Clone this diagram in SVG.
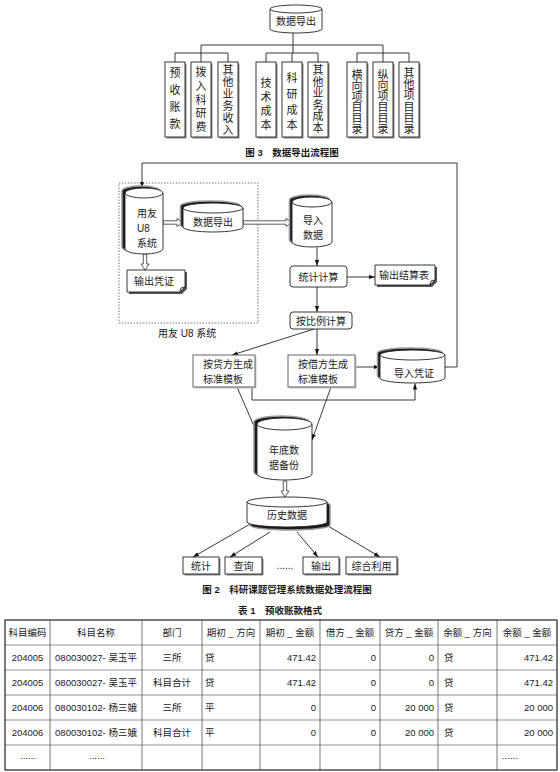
<svg xmlns="http://www.w3.org/2000/svg" width="560" height="772" viewBox="0 0 560 772">
<defs>
<style>
text{font-family:'Liberation Sans','Noto Sans CJK SC',sans-serif;fill:#1a1a1a;font-size:10px}
.c{text-anchor:middle}
.e{text-anchor:end}
.vt{font-size:11px;text-anchor:middle}
.cap{font-weight:bold;font-size:9.5px}
.tb{font-size:9.5px}
.ln{fill:none;stroke:#222;stroke-width:0.9}
.lt{fill:none;stroke:#555;stroke-width:0.8}
.ar{fill:none;stroke:#222;stroke-width:0.9;marker-end:url(#ah)}
.box{fill:#fff;stroke:#222;stroke-width:0.9}
.sh{fill:#888;stroke:none}
.cyl{fill:#fff;stroke:#222;stroke-width:0.9}
.cs{fill:#1a1a1a;stroke:#999;stroke-width:1.5}
.hol{fill:#fff;stroke:#333;stroke-width:0.8}
.gbox{fill:#fff;stroke:#555;stroke-width:0.9}
.dot{fill:none;stroke:#666;stroke-width:0.9;stroke-dasharray:1.5 1.5}
.tl{stroke:#777;stroke-width:0.8}
.tv{stroke:#555;stroke-width:0.8}
</style>
<marker id="ah" viewBox="0 0 10 10" refX="10" refY="5" markerWidth="6" markerHeight="6" orient="auto" markerUnits="userSpaceOnUse">
<path d="M0,1.5 L10,5 L0,8.5 Z" fill="#111"/>
</marker>
</defs>
<rect width="560" height="772" fill="#fff"/>

<!-- Figure 3 -->
<g id="fig3-export">
<path class="cyl" d="M270,9 A26,4 0 0 1 322,9 V29 A26,4 0 0 1 270,29 Z"/>
<path class="ln" d="M270,9 A26,4 0 0 0 322,9"/>
<text class="c" x="296" y="25" font-size="11">数据导出</text>
</g>
<g id="fig3-connectors">
<path class="ln" d="M293,33 V53 M201,45 H383 M201,45 V53 M383,45 V53"/>
<path class="ln" d="M175,53 H228 M175,53 V62 M201,53 V62 M228,53 V62"/>
<path class="ln" d="M266,53 H318 M266,53 V62 M292,53 V62 M318,53 V62"/>
<path class="ln" d="M357,53 H409 M357,53 V62 M383,53 V62 M409,53 V62"/>
</g>
<g id="fig3-b1"><rect class="sh" x="166.5" y="63.5" width="20" height="75"/><rect class="box" x="165" y="62" width="20" height="75"/>
<text class="vt"><tspan x="175" y="77">预</tspan><tspan x="175" y="94">收</tspan><tspan x="175" y="111">账</tspan><tspan x="175" y="128">款</tspan></text></g>
<g id="fig3-b2"><rect class="sh" x="192.5" y="63.5" width="20" height="75"/><rect class="box" x="191" y="62" width="20" height="75"/>
<text class="vt"><tspan x="201" y="76">拨</tspan><tspan x="201" y="90">入</tspan><tspan x="201" y="104">科</tspan><tspan x="201" y="117">研</tspan><tspan x="201" y="131">费</tspan></text></g>
<g id="fig3-b3"><rect class="sh" x="219.5" y="63.5" width="20" height="75"/><rect class="box" x="218" y="62" width="20" height="75"/>
<text class="vt" font-size="10"><tspan x="228" y="74">其</tspan><tspan x="228" y="86">他</tspan><tspan x="228" y="98">业</tspan><tspan x="228" y="110">务</tspan><tspan x="228" y="122">收</tspan><tspan x="228" y="134">入</tspan></text></g>
<g id="fig3-b4"><rect class="sh" x="257.5" y="63.5" width="20" height="75"/><rect class="box" x="256" y="62" width="20" height="75"/>
<text class="vt"><tspan x="266" y="87">技</tspan><tspan x="266" y="101">术</tspan><tspan x="266" y="115">成</tspan><tspan x="266" y="129">本</tspan></text></g>
<g id="fig3-b5"><rect class="sh" x="283.5" y="63.5" width="20" height="75"/><rect class="box" x="282" y="62" width="20" height="75"/>
<text class="vt"><tspan x="292" y="82">科</tspan><tspan x="292" y="98">研</tspan><tspan x="292" y="114">成</tspan><tspan x="292" y="129">本</tspan></text></g>
<g id="fig3-b6"><rect class="sh" x="309.5" y="63.5" width="20" height="75"/><rect class="box" x="308" y="62" width="20" height="75"/>
<text class="vt" font-size="10"><tspan x="318" y="74">其</tspan><tspan x="318" y="85.6">他</tspan><tspan x="318" y="97.2">业</tspan><tspan x="318" y="108.8">务</tspan><tspan x="318" y="120.4">成</tspan><tspan x="318" y="132">本</tspan></text></g>
<g id="fig3-b7"><rect class="sh" x="348.5" y="63.5" width="20" height="75"/><rect class="box" x="347" y="62" width="20" height="75"/>
<text class="vt" font-size="9.5"><tspan x="357" y="79">横</tspan><tspan x="357" y="89.8">向</tspan><tspan x="357" y="100.6">项</tspan><tspan x="357" y="111.4">目</tspan><tspan x="357" y="122.2">目</tspan><tspan x="357" y="133">录</tspan></text></g>
<g id="fig3-b8"><rect class="sh" x="374.5" y="63.5" width="20" height="75"/><rect class="box" x="373" y="62" width="20" height="75"/>
<text class="vt" font-size="9.5"><tspan x="383" y="78.5">纵</tspan><tspan x="383" y="89.4">向</tspan><tspan x="383" y="100.3">项</tspan><tspan x="383" y="111.2">目</tspan><tspan x="383" y="122.1">目</tspan><tspan x="383" y="133">录</tspan></text></g>
<g id="fig3-b9"><rect class="sh" x="400.5" y="63.5" width="20" height="75"/><rect class="box" x="399" y="62" width="20" height="75"/>
<text class="vt" font-size="9.5"><tspan x="409" y="77">其</tspan><tspan x="409" y="88.2">他</tspan><tspan x="409" y="99.4">项</tspan><tspan x="409" y="110.6">目</tspan><tspan x="409" y="121.8">目</tspan><tspan x="409" y="133">录</tspan></text></g>
<text class="cap c" x="292" y="156">图 3　数据导出流程图</text>

<!-- Figure 2 -->
<g id="u8-area">
<rect class="dot" x="119" y="183" width="139" height="140"/>
<text x="158" y="337" font-size="9.5">用友 U8 系统</text>
</g>

<g id="connectors">
<path class="ar" d="M445,367 H457 V163 H142 V187.5"/>
<polygon class="hol" points="163,220.8 177,220.8 177,218.5 183,222.5 177,226.5 177,224.2 163,224.2"/>
<polygon class="hol" points="243,220.8 286,220.8 286,218.5 292,222.5 286,226.5 286,224.2 243,224.2"/>
<polygon class="hol" points="143.3,254 143.3,264 141,264 145,270 149,264 146.7,264 146.7,254"/>
<path class="ar" d="M317,247.5 V266"/>
<path class="ar" d="M347,277 H375"/>
<path class="ar" d="M317,287 V312"/>
<path class="ar" d="M314,329 L232,355"/>
<path class="ar" d="M317,329 V355"/>
<path class="ar" d="M355,367 H380"/>
<path class="ar" d="M252,387 V400 H415 V383.5"/>
<path class="ar" d="M237,387 L257,433"/>
<path class="ar" d="M331,387 L312,440"/>
<polygon class="hol" points="283.3,481 283.3,491 281,491 285,497 289,491 286.7,491 286.7,481"/>
<path class="ar" d="M252,523 L193,557"/>
<path class="ar" d="M270,532 L230,557"/>
<path class="ar" d="M297,532 L318,557"/>
<path class="ar" d="M323,523 L380,557"/>
</g>

<g id="u8">
<path class="cs" transform="translate(-3,-2)" d="M125,193 A19,5 0 0 1 163,193 V249 A19,5 0 0 1 125,249 Z"/>
<path class="cyl" d="M125,193 A19,5 0 0 1 163,193 V249 A19,5 0 0 1 125,249 Z"/>
<path class="ln" d="M125,193 A19,5 0 0 0 163,193"/>
<text x="137" y="217">用友</text>
<text x="137" y="232">U8</text>
<text x="137" y="247">系统</text>
</g>

<g id="export">
<path class="cs" transform="translate(-2.5,-2)" d="M183,208 A30,5 0 0 1 243,208 V227 A30,5 0 0 1 183,227 Z"/>
<path class="cyl" d="M183,208 A30,5 0 0 1 243,208 V227 A30,5 0 0 1 183,227 Z"/>
<path class="ln" d="M183,208 A30,5 0 0 0 243,208"/>
<text class="c" x="213" y="226">数据导出</text>
</g>

<g id="voucher-out">
<path fill="#555" d="M129,272 H187 V289 L182,294 H129 Z"/>
<path class="box" d="M127,270 H185 V287 L180,292 H127 Z"/>
<path class="ln" d="M180,292 L181,288 L185,287"/>
<text class="c" x="154" y="285">输出凭证</text>
</g>

<g id="import-data">
<path class="cs" transform="translate(-2.5,-2)" d="M292,202 A20,5 0 0 1 332,202 V242 A20,5 0 0 1 292,242 Z"/>
<path class="cyl" d="M292,202 A20,5 0 0 1 332,202 V242 A20,5 0 0 1 292,242 Z"/>
<path class="ln" d="M292,202 A20,5 0 0 0 332,202"/>
<text class="c" x="313" y="224">导入</text>
<text class="c" x="313" y="239">数据</text>
</g>

<g id="stat-calc">
<rect class="box" x="290" y="266" width="57" height="21" rx="3"/>
<text class="c" x="318.5" y="281">统计计算</text>
</g>

<g id="settle-out">
<path fill="#555" d="M377,267 H437 V282 L432,287 H377 Z"/>
<path class="box" d="M375,265 H435 V280 L430,285 H375 Z"/>
<path class="ln" d="M430,285 L431,281 L435,280"/>
<text class="c" x="404" y="279">输出结算表</text>
</g>

<g id="ratio-calc">
<rect class="box" x="290" y="312" width="62" height="17" rx="3"/>
<text class="c" x="321" y="324.5">按比例计算</text>
</g>

<g id="credit-tpl">
<rect fill="#ccc" x="194.5" y="356.5" width="62" height="32"/>
<rect class="gbox" x="193" y="355" width="62" height="32"/>
<text x="203" y="368">按贷方生成</text>
<text x="203" y="383">标准模板</text>
</g>

<g id="debit-tpl">
<rect fill="#ccc" x="289.5" y="356.5" width="67" height="32"/>
<rect class="gbox" x="288" y="355" width="67" height="32"/>
<text x="298" y="368">按借方生成</text>
<text x="298" y="383">标准模板</text>
</g>

<g id="import-voucher">
<path class="cs" transform="translate(-2.5,-2)" d="M380,355 A32.5,5 0 0 1 445,355 V378 A32.5,5 0 0 1 380,378 Z"/>
<path class="cyl" d="M380,355 A32.5,5 0 0 1 445,355 V378 A32.5,5 0 0 1 380,378 Z"/>
<path class="ln" d="M380,355 A32.5,5 0 0 0 445,355"/>
<text class="c" x="414" y="377">导入凭证</text>
</g>

<g id="year-backup">
<path class="cs" transform="translate(-3,-2)" d="M257,424 A27.5,6 0 0 1 312,424 V474 A27.5,6 0 0 1 257,474 Z"/>
<path class="cyl" d="M257,424 A27.5,6 0 0 1 312,424 V474 A27.5,6 0 0 1 257,474 Z"/>
<path class="ln" d="M257,424 A27.5,6 0 0 0 312,424"/>
<text class="c" x="284" y="454">年底数</text>
<text class="c" x="284" y="469">据备份</text>
</g>

<g id="history">
<path class="cs" transform="translate(3,3)" d="M247,502 A40,5 0 0 1 327,502 V522 A40,5 0 0 1 247,522 Z"/>
<path class="cyl" d="M247,502 A40,5 0 0 1 327,502 V522 A40,5 0 0 1 247,522 Z"/>
<path class="ln" d="M247,502 A40,5 0 0 0 327,502"/>
<text class="c" x="287" y="519">历史数据</text>
</g>

<g id="out-stat"><rect class="sh" x="184.5" y="558.5" width="36" height="17"/><rect class="box" x="183" y="557" width="36" height="17"/><text class="c" x="201" y="569.5">统计</text></g>
<g id="out-query"><rect class="sh" x="226.5" y="558.5" width="37" height="17"/><rect class="box" x="225" y="557" width="37" height="17"/><text class="c" x="243.5" y="569.5">查询</text></g>
<text class="c" x="285" y="569">......</text>
<g id="out-export"><rect class="sh" x="304.5" y="558.5" width="36" height="17"/><rect class="box" x="303" y="557" width="36" height="17"/><text class="c" x="321" y="569.5">输出</text></g>
<g id="out-use"><rect class="sh" x="347.5" y="558.5" width="51" height="17"/><rect class="box" x="346" y="557" width="51" height="17"/><text class="c" x="371.5" y="569.5">综合利用</text></g>

<text class="cap c" x="287" y="593">图 2　科研课题管理系统数据处理流程图</text>

<!-- Table 1 -->
<text class="cap c" x="280" y="614">表 1　预收账款格式</text>
<g id="table">
<g>
<line class="tl" x1="5" y1="645" x2="557" y2="645"/>
<line class="tl" x1="5" y1="670" x2="557" y2="670"/>
<line class="tl" x1="5" y1="695" x2="557" y2="695"/>
<line class="tl" x1="5" y1="720" x2="557" y2="720"/>
<line class="tl" x1="5" y1="745" x2="557" y2="745"/>
<line class="tv" x1="50" y1="620" x2="50" y2="770"/>
<line class="tv" x1="142" y1="620" x2="142" y2="770"/>
<line class="tv" x1="202" y1="620" x2="202" y2="770"/>
<line class="tv" x1="260" y1="620" x2="260" y2="770"/>
<line class="tv" x1="320" y1="620" x2="320" y2="770"/>
<line class="tv" x1="380" y1="620" x2="380" y2="770"/>
<line class="tv" x1="438" y1="620" x2="438" y2="770"/>
<line class="tv" x1="497" y1="620" x2="497" y2="770"/>
<rect x="5" y="620" width="552" height="150" fill="none" stroke="#222" stroke-width="1.2"/>
</g>
<g class="tb">
<text class="tb c" x="27.5" y="636">科目编码</text>
<text class="tb c" x="96" y="636">科目名称</text>
<text class="tb c" x="172" y="636">部门</text>
<text class="tb c" x="231" y="636">期初 _ 方向</text>
<text class="tb c" x="290" y="636">期初 _ 金额</text>
<text class="tb c" x="350" y="636">借方 _ 金额</text>
<text class="tb c" x="409" y="636">贷方 _ 金额</text>
<text class="tb c" x="467.5" y="636">余额 _ 方向</text>
<text class="tb c" x="527" y="636">余额 _ 金额</text>

<text class="tb c" x="27.5" y="661">204005</text>
<text class="tb c" x="96" y="661">080030027- 吴玉平</text>
<text class="tb c" x="172" y="661">三所</text>
<text class="tb" x="205" y="661">贷</text>
<text class="tb e" x="316" y="661">471.42</text>
<text class="tb e" x="376" y="661">0</text>
<text class="tb e" x="434" y="661">0</text>
<text class="tb" x="444" y="661">贷</text>
<text class="tb e" x="553" y="661">471.42</text>

<text class="tb c" x="27.5" y="686">204005</text>
<text class="tb c" x="96" y="686">080030027- 吴玉平</text>
<text class="tb c" x="172" y="686">科目合计</text>
<text class="tb" x="205" y="686">贷</text>
<text class="tb e" x="316" y="686">471.42</text>
<text class="tb e" x="376" y="686">0</text>
<text class="tb e" x="434" y="686">0</text>
<text class="tb" x="444" y="686">贷</text>
<text class="tb e" x="553" y="686">471.42</text>

<text class="tb c" x="27.5" y="711">204006</text>
<text class="tb c" x="96" y="711">080030102- 杨三娥</text>
<text class="tb c" x="172" y="711">三所</text>
<text class="tb" x="205" y="711">平</text>
<text class="tb e" x="316" y="711">0</text>
<text class="tb e" x="376" y="711">0</text>
<text class="tb e" x="434" y="711">20 000</text>
<text class="tb" x="444" y="711">贷</text>
<text class="tb e" x="553" y="711">20 000</text>

<text class="tb c" x="27.5" y="736">204006</text>
<text class="tb c" x="96" y="736">080030102- 杨三娥</text>
<text class="tb c" x="172" y="736">科目合计</text>
<text class="tb" x="205" y="736">平</text>
<text class="tb e" x="316" y="736">0</text>
<text class="tb e" x="376" y="736">0</text>
<text class="tb e" x="434" y="736">20 000</text>
<text class="tb" x="444" y="736">贷</text>
<text class="tb e" x="553" y="736">20 000</text>

<text class="tb c" x="28" y="759">......</text>
<text class="tb c" x="97" y="759">......</text>
<text class="tb" x="502" y="759">......</text>
</g>
</g>
</svg>
